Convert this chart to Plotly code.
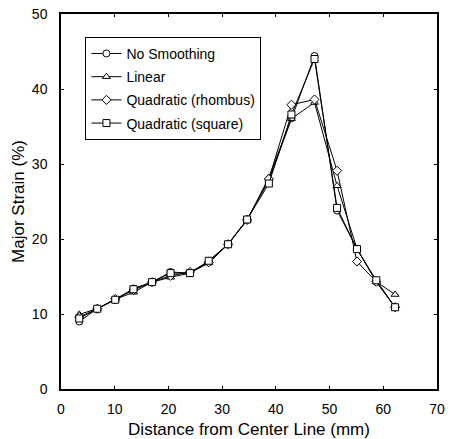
import plotly.graph_objects as go

distance = [3.4, 6.75, 10.1, 13.5, 16.95, 20.4, 24.0, 27.5, 31.1, 34.65, 38.7, 42.9, 47.2, 51.4, 55.1, 58.7, 62.2]

no_smoothing = [9.0, 10.7, 11.9, 13.4, 14.25, 15.6, 15.45, 17.0, 19.3, 22.6, 27.8, 36.1, 44.4, 23.8, 18.7, 14.3, 10.9]
linear = [9.95, 10.7, 11.95, 12.9, 14.25, 14.9, 15.45, 16.8, 19.3, 22.5, 28.2, 36.05, 38.2, 27.1, 18.7, 14.3, 12.6]
quad_rhombus = [9.6, 10.7, 12.0, 13.2, 14.25, 15.1, 15.6, 16.9, 19.3, 22.55, 28.0, 37.9, 38.6, 29.1, 17.0, 14.3, 10.9]
quad_square = [9.4, 10.7, 11.9, 13.3, 14.25, 15.45, 15.45, 17.1, 19.3, 22.6, 27.4, 36.6, 44.0, 24.15, 18.65, 14.5, 10.9]

series = [
    ("No Smoothing", no_smoothing, "circle"),
    ("Linear", linear, "triangle-up"),
    ("Quadratic (rhombus)", quad_rhombus, "diamond"),
    ("Quadratic (square)", quad_square, "square"),
]

x_ticks = [0, 10, 20, 30, 40, 50, 60, 70]
y_ticks = [0, 10, 20, 30, 40, 50]

fig = go.Figure()
for name, vals, sym in series:
    fig.add_trace(go.Scatter(
        x=distance, y=vals, name=name, mode="lines+markers", legendgroup=name,
        line=dict(color="black", width=1),
        marker=dict(symbol=sym, size=7, color="white", line=dict(color="black", width=1)),
    ))

font = dict(family="Liberation Sans, Arial, sans-serif", size=14, color="black")
fig.update_layout(
    width=454, height=439,
    margin=dict(l=61, r=17, t=14, b=50, autoexpand=False),
    paper_bgcolor="white", plot_bgcolor="white",
    font=font,
    showlegend=True,
    legend=dict(
        x=0.065, y=0.939, xanchor="left", yanchor="top",
        bordercolor="black", borderwidth=1, bgcolor="white",
        font=dict(family="Liberation Sans, Arial, sans-serif", size=14, color="black"),
        itemwidth=30, tracegroupgap=2,
    ),
    xaxis=dict(
        range=[0, 70], tickvals=x_ticks, showgrid=False, zeroline=False,
        showline=True, linecolor="black", linewidth=1.5, mirror="allticks",
        ticks="inside", ticklen=3, tickcolor="black", automargin=False,
        title=dict(text="Distance from Center Line (mm)", standoff=8),
        ticklabelstandoff=6,
    ),
    yaxis=dict(
        range=[0, 50], tickvals=y_ticks, showgrid=False, zeroline=False,
        showline=True, linecolor="black", linewidth=1.5, mirror="allticks",
        ticks="inside", ticklen=3, tickcolor="black", automargin=False,
        title=dict(text="Major Strain (%)", standoff=3),
        ticklabelstandoff=9,
    ),
)

fig.write_html("out.html")
